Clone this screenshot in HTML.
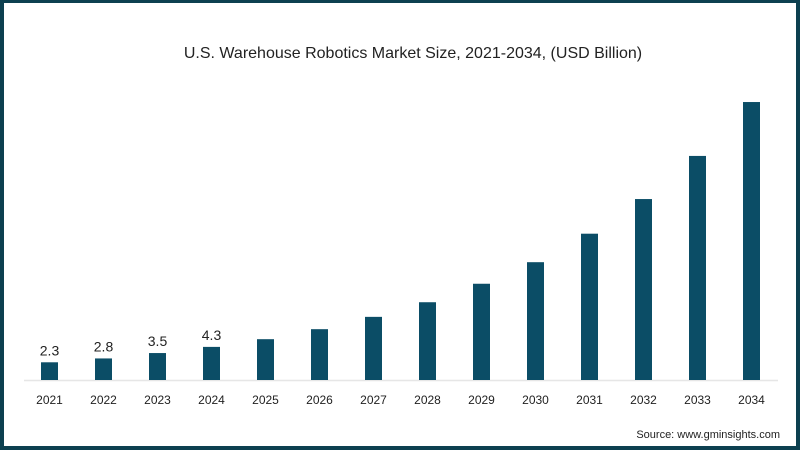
<!DOCTYPE html>
<html><head><meta charset="utf-8"><style>
html,body{margin:0;padding:0;background:#fff}
#frame{position:relative;width:800px;height:450px;box-sizing:border-box;border:4px solid #0d4050;border-top-width:3px;background:#fff;font-family:"Liberation Sans",sans-serif}
svg{position:absolute;left:-4px;top:-3px}
</style></head><body>
<div id="frame">
<svg id="chart" width="800" height="450">
<text x="413" y="58" text-anchor="middle" font-size="16" fill="#222">U.S. Warehouse Robotics Market Size, 2021-2034, (USD Billion)</text>
<line x1="24" y1="380.5" x2="778" y2="380.5" stroke="#e6e6e6" stroke-width="1.5"/>
<text x="780" y="438" text-anchor="end" font-size="11" fill="#222">Source: www.gminsights.com</text>
</svg>
</div>
<script>
const categories=["2021","2022","2023","2024","2025","2026","2027","2028","2029","2030","2031","2032","2033","2034"];
const values=[2.3,2.8,3.5,4.3,5.3,6.6,8.2,10.1,12.5,15.3,19.0,23.5,29.1,36.1];
const valueLabels=["2.3","2.8","3.5","4.3","","","","","","","","","",""];
const svg=document.getElementById('chart');
const NS="http://www.w3.org/2000/svg";
const baseY=380, pxPerUnit=7.7, x0=49.5, step=54, bw=17;
const xScale=i=>x0+i*step;
const yScale=v=>baseY-v*pxPerUnit;
categories.forEach((c,i)=>{
  const r=document.createElementNS(NS,'rect');
  r.setAttribute('x',xScale(i)-bw/2);
  r.setAttribute('y',yScale(values[i]));
  r.setAttribute('width',bw);
  r.setAttribute('height',baseY-yScale(values[i]));
  r.setAttribute('fill','#0b4d66');
  
  
  svg.appendChild(r);
  const t=document.createElementNS(NS,'text');
  t.setAttribute('x',xScale(i));
  t.setAttribute('y',404);
  t.setAttribute('text-anchor','middle');
  t.setAttribute('font-size','12');
  t.setAttribute('fill','#222');
  t.textContent=c;
  
  
  svg.appendChild(t);
  if(valueLabels[i]){
    const l=document.createElementNS(NS,'text');
    l.setAttribute('x',xScale(i));
    l.setAttribute('y',yScale(values[i])-7);
    l.setAttribute('text-anchor','middle');
    l.setAttribute('font-size','14');
    l.setAttribute('fill','#222');
    l.textContent=valueLabels[i];
    
    
    svg.appendChild(l);
  }
});
</script>
</body></html>
